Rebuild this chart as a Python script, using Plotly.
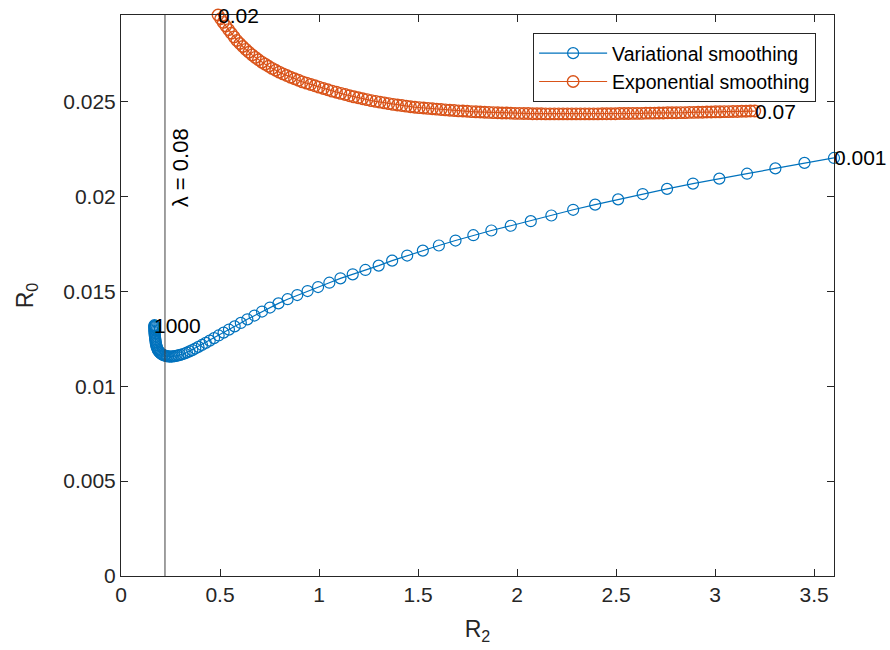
import plotly.graph_objects as go

# ---------------- data ----------------
# Variational smoothing: lambda from 0.001 (right end) to 1000 (hook)
var_r2 = [3.600, 3.451, 3.304, 3.161, 3.021, 2.888, 2.757, 2.634, 2.510, 2.394,
          2.283, 2.173, 2.069, 1.968, 1.870, 1.779, 1.689, 1.605, 1.524, 1.445,
          1.369, 1.301, 1.234, 1.170, 1.108, 1.052, 0.995, 0.942,
          0.890, 0.841, 0.795, 0.752, 0.712, 0.674, 0.638, 0.605, 0.574, 0.545,
          0.518, 0.493, 0.470, 0.448, 0.428, 0.409, 0.391, 0.375, 0.360, 0.346,
          0.333, 0.321, 0.310, 0.299, 0.289, 0.280, 0.271, 0.262, 0.254, 0.246,
          0.238, 0.231, 0.224, 0.218, 0.212, 0.206, 0.201, 0.196, 0.192, 0.188,
          0.185, 0.182, 0.180, 0.178, 0.176, 0.175, 0.174, 0.173, 0.172, 0.171,
          0.170, 0.170, 0.169, 0.169, 0.169, 0.169, 0.169, 0.169, 0.169, 0.169]
var_r0 = [0.02202, 0.02176, 0.02147, 0.02119, 0.02093, 0.02067, 0.02039, 0.02012, 0.01984, 0.01956,
          0.01929, 0.01899, 0.01869, 0.01845, 0.01820, 0.01795, 0.01767, 0.01741, 0.01714, 0.01688,
          0.01661, 0.01635, 0.01612, 0.01589, 0.01568, 0.01545, 0.01522, 0.01501,
          0.01480, 0.01458, 0.01436, 0.01414, 0.01393, 0.01372, 0.01352, 0.01333, 0.01315, 0.01298,
          0.01282, 0.01267, 0.01253, 0.01240, 0.01228, 0.01217, 0.01207, 0.01198, 0.01190, 0.01183,
          0.01177, 0.01172, 0.01168, 0.01165, 0.01162, 0.01160, 0.01158, 0.01157, 0.01156, 0.01156,
          0.01157, 0.01158, 0.01160, 0.01162, 0.01165, 0.01168, 0.01172, 0.01177, 0.01182, 0.01188,
          0.01194, 0.01201, 0.01208, 0.01216, 0.01224, 0.01232, 0.01240, 0.01248, 0.01256, 0.01264,
          0.01272, 0.01279, 0.01286, 0.01293, 0.01299, 0.01305, 0.01310, 0.01314, 0.01318, 0.01321]

# Exponential smoothing: alpha from 0.02 (top-left) to 0.07 (right end)
exp_r2 = [0.490, 0.503, 0.516, 0.529, 0.543, 0.557, 0.571, 0.585, 0.600, 0.615,
          0.630, 0.646, 0.662, 0.678, 0.694, 0.711, 0.728, 0.745, 0.763, 0.781,
          0.799, 0.818, 0.837, 0.856, 0.876, 0.896, 0.916, 0.937, 0.958, 0.979,
          1.000, 1.022, 1.044, 1.066, 1.088, 1.110, 1.132, 1.154, 1.176, 1.198,
          1.220, 1.242, 1.264, 1.286, 1.308, 1.330, 1.352, 1.374, 1.396, 1.418,
          1.440, 1.462, 1.484, 1.506, 1.528, 1.550, 1.572, 1.594, 1.616, 1.638,
          1.660, 1.682, 1.704, 1.726, 1.748, 1.770, 1.792, 1.814, 1.836, 1.858,
          1.880, 1.902, 1.924, 1.946, 1.968, 1.990, 2.012, 2.034, 2.056, 2.078,
          2.100, 2.122, 2.144, 2.166, 2.188, 2.210, 2.232, 2.254, 2.276, 2.298,
          2.320, 2.342, 2.364, 2.386, 2.408, 2.430, 2.452, 2.474, 2.496, 2.518,
          2.540, 2.562, 2.584, 2.606, 2.628, 2.650, 2.672, 2.694, 2.716, 2.738,
          2.760, 2.782, 2.804, 2.826, 2.848, 2.870, 2.892, 2.914, 2.936, 2.958,
          2.980, 3.002, 3.024, 3.046, 3.068, 3.090, 3.112, 3.134, 3.156, 3.178, 3.200]
exp_r0 = [0.02955, 0.02935, 0.02916, 0.02897, 0.02878, 0.02859, 0.02840, 0.02821, 0.02805, 0.02789,
          0.02774, 0.02759, 0.02745, 0.02732, 0.02719, 0.02707, 0.02696, 0.02685, 0.02674, 0.02664,
          0.02654, 0.02645, 0.02636, 0.02627, 0.02619, 0.02611, 0.02603, 0.02596, 0.02589, 0.02582,
          0.02575, 0.02568, 0.02561, 0.02554, 0.02548, 0.02542, 0.02536, 0.02530, 0.02524, 0.02519,
          0.02514, 0.02509, 0.02504, 0.02500, 0.02496, 0.02492, 0.02488, 0.02484, 0.02481, 0.02478,
          0.02475, 0.02472, 0.02469, 0.02467, 0.02465, 0.02463, 0.02461, 0.02459, 0.02457, 0.02455,
          0.02453, 0.02452, 0.02450, 0.02449, 0.02448, 0.02446, 0.02445, 0.02444, 0.02443, 0.02442,
          0.02441, 0.02440, 0.02439, 0.02439, 0.02438, 0.02437, 0.02437, 0.02436, 0.02436, 0.02435,
          0.02435, 0.02435, 0.02434, 0.02434, 0.02434, 0.02434, 0.02434, 0.02434, 0.02434, 0.02434,
          0.02434, 0.02434, 0.02434, 0.02434, 0.02434, 0.02435, 0.02435, 0.02435, 0.02435, 0.02436,
          0.02436, 0.02436, 0.02437, 0.02437, 0.02437, 0.02438, 0.02438, 0.02438, 0.02439, 0.02439,
          0.02440, 0.02440, 0.02440, 0.02441, 0.02441, 0.02442, 0.02442, 0.02443, 0.02443, 0.02444,
          0.02444, 0.02445, 0.02445, 0.02446, 0.02446, 0.02447, 0.02447, 0.02448, 0.02448, 0.02449, 0.02449]

var_end_labels = ["0.001", "1000"]
exp_end_labels = ["0.02", "0.07"]

lambda_line_r2 = 0.222
lambda_label = "λ = 0.08"
lambda_label_pos = (0.30, 0.0215)

x_ticks = [0, 0.5, 1, 1.5, 2, 2.5, 3, 3.5]
x_tick_text = ["0", "0.5", "1", "1.5", "2", "2.5", "3", "3.5"]
y_ticks = [0, 0.005, 0.01, 0.015, 0.02, 0.025]
y_tick_text = ["0", "0.005", "0.01", "0.015", "0.02", "0.025"]
x_range = [0, 3.6]
y_range = [0, 0.02955]

# ---------------- figure ----------------
BLUE = "#0072BD"
ORANGE = "#D95319"
AX = "#262626"
FONT = "Liberation Sans, Arial, Helvetica, sans-serif"

fig = go.Figure()
fig.add_trace(go.Scatter(
    x=var_r2, y=var_r0, mode="lines+markers", name="Variational smoothing",
    line=dict(color=BLUE, width=1.2),
    marker=dict(symbol="circle-open", size=11, color=BLUE, line=dict(width=1.2)),
    cliponaxis=False))
fig.add_trace(go.Scatter(
    x=exp_r2, y=exp_r0, mode="lines+markers", name="Exponential smoothing",
    line=dict(color=ORANGE, width=1.2),
    marker=dict(symbol="circle-open", size=11.5, color=ORANGE, line=dict(width=1.4)),
    cliponaxis=False))

fig.add_shape(type="line", xref="x", yref="y domain",
              x0=lambda_line_r2, x1=lambda_line_r2, y0=0, y1=1,
              line=dict(color="#404040", width=1))

ann_font = dict(family=FONT, size=21, color="black")
annotations = [
    dict(x=var_r2[0], y=var_r0[0], text=var_end_labels[0]),
    dict(x=var_r2[-1], y=var_r0[-1], text=var_end_labels[1]),
    dict(x=exp_r2[0], y=exp_r0[0], text=exp_end_labels[0]),
    dict(x=exp_r2[-1], y=exp_r0[-1], text=exp_end_labels[1]),
]
for a in annotations:
    fig.add_annotation(x=a["x"], y=a["y"], text=a["text"], showarrow=False,
                       xanchor="left", yanchor="middle", font=ann_font, xshift=-2)
fig.add_annotation(x=lambda_label_pos[0], y=lambda_label_pos[1], text=lambda_label,
                   showarrow=False, textangle=-90, xanchor="center", yanchor="middle",
                   font=dict(family=FONT, size=22, color="black"))

axis_common = dict(showline=True, linecolor=AX, linewidth=1, mirror="allticks",
                   ticks="inside", ticklen=7, tickwidth=1, tickcolor=AX,
                   showgrid=False, zeroline=False,
                   tickfont=dict(family=FONT, size=21, color=AX))

fig.update_xaxes(range=x_range, tickvals=x_ticks, ticktext=x_tick_text,
                 title=dict(text="R<sub>2</sub>", font=dict(family=FONT, size=23, color=AX), standoff=15),
                 **axis_common)
fig.update_yaxes(range=y_range, tickvals=y_ticks, ticktext=y_tick_text,
                 title=dict(text="R<sub>0</sub>", font=dict(family=FONT, size=23, color=AX), standoff=23),
                 **axis_common)

fig.update_layout(
    width=890, height=650,
    margin=dict(l=121, r=56, t=15, b=74, autoexpand=False),
    plot_bgcolor="white", paper_bgcolor="white",
    font=dict(family=FONT, color=AX),
    showlegend=True,
    legend=dict(x=0.578, y=0.968, xanchor="left", yanchor="top",
                bgcolor="white", bordercolor=AX, borderwidth=1,
                font=dict(family=FONT, size=19.5, color="black"),
                itemwidth=68, tracegroupgap=0),
)

fig.write_html("out.html")
